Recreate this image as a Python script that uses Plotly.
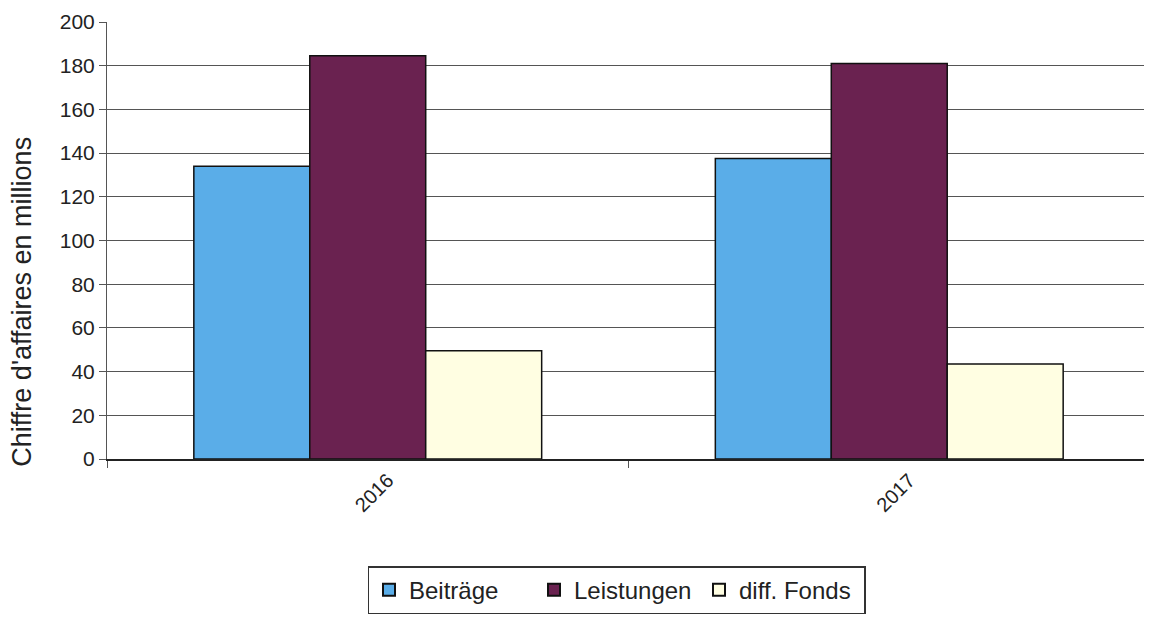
import plotly.graph_objects as go

years = ["2016", "2017"]
beitraege = [134, 137.5]
leistungen = [184.5, 181]
diff_fonds = [49.5, 43.5]
y_title = "Chiffre d'affaires en millions"

series = [
    ("Beiträge", beitraege, "#5AADE8"),
    ("Leistungen", leistungen, "#6A2250"),
    ("diff. Fonds", diff_fonds, "#FFFEE2"),
]

fig = go.Figure()
for name, vals, col in series:
    fig.add_bar(x=years, y=vals, name=name, marker=dict(color=col, line=dict(color="#111111", width=1.5)))

fig.update_layout(
    width=1144, height=610,
    margin=dict(l=99, r=2, t=14, b=159),
    paper_bgcolor="white", plot_bgcolor="white",
    barmode="group", bargap=0.333, bargroupgap=0,
    font=dict(family="Liberation Sans, Arial, sans-serif", color="#222222", size=21),
    showlegend=True,
    legend=dict(orientation="h", x=0.4885, xanchor="center", y=-0.245, yanchor="top",
                bordercolor="#333333", borderwidth=1.5, font=dict(size=24),
                itemsizing="constant", traceorder="normal",
                itemwidth=30, entrywidth=120, entrywidthmode="pixels"),
)
fig.add_annotation(text=y_title, textangle=-90, xref="paper", yref="paper",
                   x=-0.0815, xanchor="center", y=0.36, yanchor="middle", showarrow=False,
                   font=dict(size=27, color="#222222"))
fig.update_yaxes(range=[0, 200], dtick=20, showgrid=True, gridcolor="#555555", gridwidth=1,
                 showline=True, linecolor="#555555", linewidth=1, ticks="outside", ticklen=7,
                 tickcolor="#555555", zeroline=False, tickfont=dict(size=21))
fig.update_xaxes(type="category", showline=True, linecolor="#222222", linewidth=1.5,
                 ticks="outside", tickson="boundaries", ticklen=7, tickcolor="#555555",
                 tickangle=-45, tickfont=dict(size=20), ticklabelshift=20)

fig.write_html("out.html")
